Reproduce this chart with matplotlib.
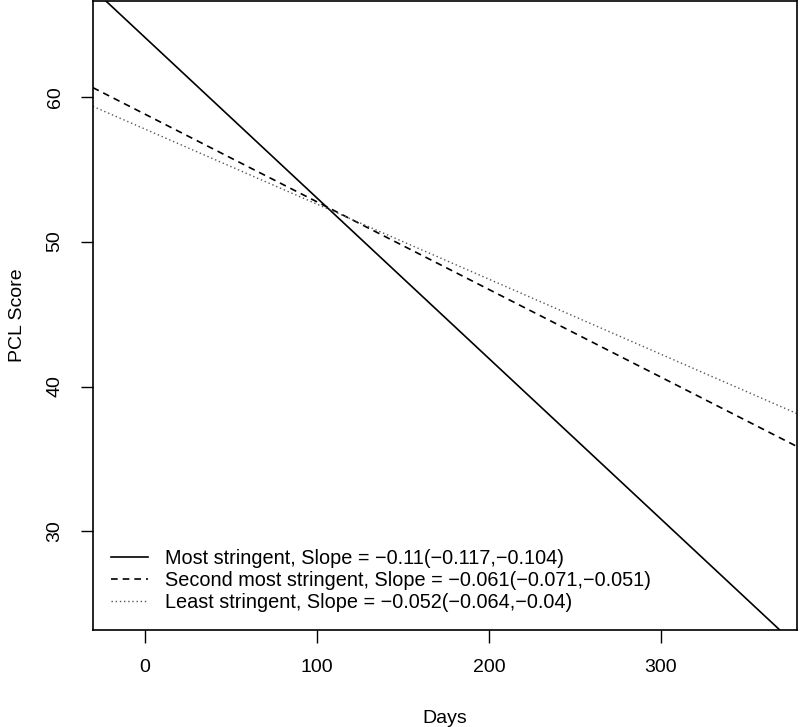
import matplotlib
matplotlib.use("Agg")
import matplotlib.pyplot as plt
import numpy as np

plt.rcParams['font.family'] = ['Liberation Sans', 'DejaVu Sans']

# Fitted lines (intercept at day 0, slope per day)
labels = ["Most stringent, Slope = \u22120.11(\u22120.117,\u22120.104)",
          "Second most stringent, Slope = \u22120.061(\u22120.071,\u22120.051)",
          "Least stringent, Slope = \u22120.052(\u22120.064,\u22120.04)"]
intercepts = [64.1, 58.8, 57.77]
slopes = [-0.1108, -0.0605, -0.0518]
styles = ["-", (0, (4, 3)), (0, (1, 2))]
widths = [1.2, 1.2, 1.0]
colors = ["black", "black", "#555555"]

xlim = (-30.2, 379)
ylim = (23.2, 66.6)

fig = plt.figure(figsize=(8, 7.27), dpi=100)
ax = fig.add_axes([0.116, 0.1334, 0.88, 0.8652])

xs = np.array(xlim)
for a, b, ls, lw, c, lab in zip(intercepts, slopes, styles, widths, colors, labels):
    ax.plot(xs, a + b * xs, linestyle=ls, linewidth=lw, color=c, label=lab)

ax.set_xlim(*xlim)
ax.set_ylim(*ylim)
ax.set_xticks([0, 100, 200, 300])
ax.set_yticks([30, 40, 50, 60])
ax.tick_params(direction="out", length=9, width=1, labelsize=14, pad=12)
for lab in ax.get_yticklabels():
    lab.set_rotation(90)
    lab.set_va("center")
for sp in ax.spines.values():
    sp.set_linewidth(1.2)

ax.set_xlabel("Days", fontsize=14, labelpad=24)
ax.set_ylabel("PCL Score", fontsize=14, labelpad=15)

ax.legend(loc="lower left", frameon=False, fontsize=14.3, handlelength=1.9,
          handletextpad=0.85, labelspacing=0.15, borderaxespad=0.5,
          borderpad=0.4)

fig.savefig("out.png", dpi=100)
